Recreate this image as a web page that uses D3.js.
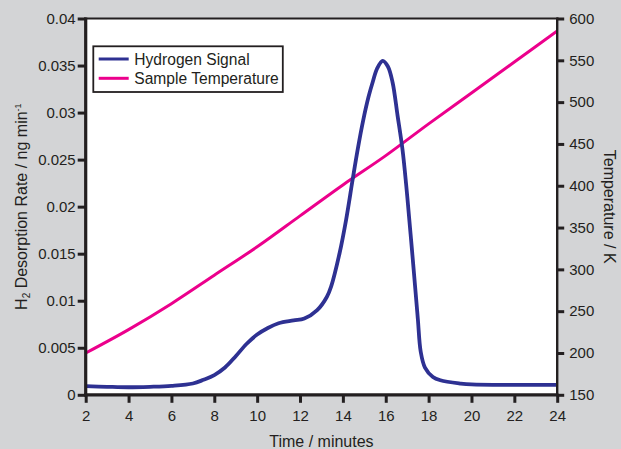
<!DOCTYPE html>
<html>
<head>
<meta charset="utf-8">
<script src="https://cdn.jsdelivr.net/npm/d3@7"></script>
<style>
  html, body { margin: 0; padding: 0; background: #d3d4d6; }
  svg { display: block; }
  text { font-family: "Liberation Sans", Arial, Helvetica, sans-serif; fill: #231f20; }
</style>
</head>
<body>
<svg id="chart" width="621" height="449"></svg>
<script>
// ---- data ----
const xTicks = [2, 4, 6, 8, 10, 12, 14, 16, 18, 20, 22, 24];
const yLeftTicks = [0, 0.005, 0.01, 0.015, 0.02, 0.025, 0.03, 0.035, 0.04];
const yRightTicks = [150, 200, 250, 300, 350, 400, 450, 500, 550, 600];

const hydrogenTime = [2, 3, 4, 5, 6, 7, 7.5, 8, 8.5, 9, 9.5, 10, 10.5, 11, 11.7, 12.2, 12.8, 13.25, 13.45, 13.85, 14.15, 14.45, 14.7, 14.95, 15.2, 15.4, 15.6, 15.86, 16.1, 16.32, 16.55, 16.78, 16.95, 17.1, 17.22, 17.37, 17.5, 17.63, 17.83, 18.2, 18.55, 19.5, 20, 22, 24];
const hydrogenRate = [0.00092, 0.00085, 0.0008, 0.00085, 0.00095, 0.0012, 0.0016, 0.0021, 0.0029, 0.0041, 0.0054, 0.0064, 0.0071, 0.0076, 0.0079, 0.0081, 0.009, 0.0104, 0.0115, 0.0151, 0.0186, 0.0228, 0.0262, 0.0292, 0.0317, 0.0333, 0.0347, 0.0355, 0.0349, 0.0332, 0.0297, 0.0261, 0.0224, 0.0186, 0.0155, 0.0115, 0.008, 0.0046, 0.0029, 0.0019, 0.00155, 0.0012, 0.0011, 0.00105, 0.00105];

const tempTime = [2, 4, 6, 8, 10, 12, 14, 16, 18, 20, 22, 24];
const temperature = [200, 228, 259, 293, 327, 364, 401, 436, 474, 511, 548, 585];

const legendLabels = ["Hydrogen Signal", "Sample Temperature"];
const colors = ["#2e3192", "#ec008c"];

// ---- layout ----
const svg = d3.select("#chart");
const L = 85.7, R = 557.2, T = 18.5, B = 394.8;
const dark = "#231f20";

const x = d3.scaleLinear().domain([2, 24]).range([L, R]);
const yL = d3.scaleLinear().domain([0, 0.04]).range([B, T]);
const yR = d3.scaleLinear().domain([150, 600]).range([B, T]);

// plot background
svg.append("rect").attr("x", L).attr("y", T).attr("width", R - L).attr("height", B - T).attr("fill", "#ffffff");

// lines
const lineH = d3.line().x((d, i) => x(hydrogenTime[i])).y(d => yL(d)).curve(d3.curveCatmullRom.alpha(0.5));
const lineT = d3.line().x((d, i) => x(tempTime[i])).y(d => yR(d)).curve(d3.curveMonotoneX);

svg.append("clipPath").attr("id", "clip").append("rect")
  .attr("x", L).attr("y", T).attr("width", R - L).attr("height", B - T);

const g = svg.append("g").attr("clip-path", "url(#clip)");
g.append("path").attr("d", lineT(temperature)).attr("fill", "none").attr("stroke", colors[1]).attr("stroke-width", 3);
g.append("path").attr("d", lineH(hydrogenRate)).attr("fill", "none").attr("stroke", colors[0]).attr("stroke-width", 3.8).attr("stroke-linejoin", "round");

// axes
function styleAxis(sel) {
  sel.select(".domain").remove();
  sel.selectAll(".tick line").attr("stroke", dark).attr("stroke-width", 3);
  sel.selectAll(".tick text").attr("font-size", 15).attr("fill", dark)
     .style("font-family", '"Liberation Sans", Arial, Helvetica, sans-serif');
}

const fmt = d => String(+d.toFixed(3));

const axB = svg.append("g").attr("transform", `translate(0,${B})`)
  .call(d3.axisBottom(x).tickValues(xTicks).tickSize(8).tickPadding(7).tickFormat(d => d));
styleAxis(axB);
axB.selectAll(".tick text").attr("dy", "0.71em").attr("y", 15.5);

const axL = svg.append("g").attr("transform", `translate(${L},0)`)
  .call(d3.axisLeft(yL).tickValues(yLeftTicks).tickSize(8).tickPadding(2).tickFormat(fmt));
styleAxis(axL);

const axR = svg.append("g").attr("transform", `translate(${R},0)`)
  .call(d3.axisRight(yR).tickValues(yRightTicks).tickSize(7).tickPadding(5).tickFormat(d => d));
styleAxis(axR);

// frame
svg.append("line").attr("x1", L - 1.5).attr("x2", R + 1.2).attr("y1", T).attr("y2", T).attr("stroke", dark).attr("stroke-width", 2.2);
svg.append("line").attr("x1", R).attr("x2", R).attr("y1", T - 1).attr("y2", B + 1.5).attr("stroke", dark).attr("stroke-width", 2.4);
svg.append("line").attr("x1", L).attr("x2", L).attr("y1", T - 1).attr("y2", B + 1.5).attr("stroke", dark).attr("stroke-width", 3.2);
svg.append("line").attr("x1", L - 1.6).attr("x2", R + 1.2).attr("y1", B).attr("y2", B).attr("stroke", dark).attr("stroke-width", 3.2);

// axis titles
svg.append("text").attr("x", (L + R) / 2).attr("y", 446.5).attr("text-anchor", "middle")
  .attr("font-size", 16).text("Time / minutes");

const lt = svg.append("text").attr("transform", `translate(27,${(T + B) / 2}) rotate(-90)`)
  .attr("text-anchor", "middle").attr("font-size", 16);
lt.append("tspan").text("H");
lt.append("tspan").attr("font-size", 10).attr("dy", 2.5).text("2");
lt.append("tspan").attr("dy", -2.5).text(" Desorption Rate / ng min");
lt.append("tspan").attr("font-size", 9).attr("dy", -6).text("-1");

svg.append("text").attr("transform", `translate(604,${(T + B) / 2}) rotate(90)`)
  .attr("text-anchor", "middle").attr("font-size", 16).text("Temperature / K");

// legend
const lg = svg.append("g");
lg.append("rect").attr("x", 93.3).attr("y", 46.3).attr("width", 189.5).attr("height", 45.7)
  .attr("fill", "#ffffff").attr("stroke", dark).attr("stroke-width", 1.8);
legendLabels.forEach((lab, i) => {
  const yy = 59 + i * 19.3;
  lg.append("line").attr("x1", 98.7).attr("x2", 128.7).attr("y1", yy).attr("y2", yy)
    .attr("stroke", colors[i]).attr("stroke-width", 3);
  lg.append("text").attr("x", 134.3).attr("y", yy + 5.5).attr("font-size", 15.6).text(lab);
});
</script>
</body>
</html>
